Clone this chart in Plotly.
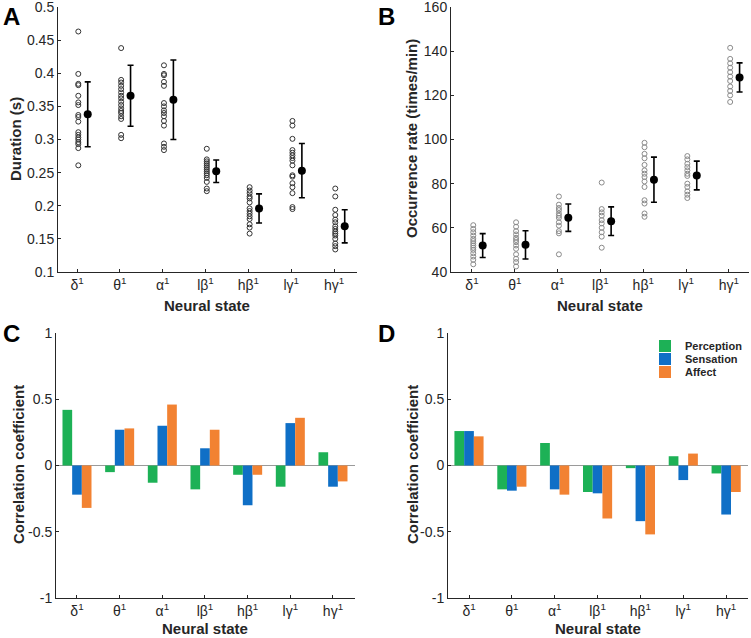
import plotly.graph_objects as go

# 神经状态类别
states = ['δ<sup>1</sup>', 'θ<sup>1</sup>', 'α<sup>1</sup>', 'lβ<sup>1</sup>',
          'hβ<sup>1</sup>', 'lγ<sup>1</sup>', 'hγ<sup>1</sup>']

# A: 持续时间 (s)，每个被试一个点
dur_pts = [
    [0.463, 0.399, 0.384, 0.382, 0.366, 0.356, 0.352, 0.337, 0.334, 0.327, 0.311, 0.307, 0.303, 0.300, 0.296, 0.293, 0.287, 0.261],
    [0.438, 0.390, 0.386, 0.381, 0.376, 0.371, 0.366, 0.362, 0.357, 0.352, 0.347, 0.343, 0.340, 0.335, 0.331, 0.307, 0.302],
    [0.412, 0.399, 0.397, 0.387, 0.381, 0.355, 0.350, 0.344, 0.340, 0.335, 0.328, 0.321, 0.294, 0.289, 0.284],
    [0.286, 0.270, 0.267, 0.264, 0.261, 0.258, 0.255, 0.252, 0.249, 0.246, 0.242, 0.236, 0.226, 0.222],
    [0.228, 0.223, 0.219, 0.214, 0.211, 0.205, 0.196, 0.192, 0.188, 0.184, 0.180, 0.172, 0.167, 0.158],
    [0.328, 0.321, 0.301, 0.284, 0.280, 0.276, 0.272, 0.268, 0.261, 0.246, 0.244, 0.234, 0.228, 0.219, 0.198, 0.195],
    [0.226, 0.214, 0.194, 0.186, 0.179, 0.175, 0.169, 0.165, 0.161, 0.158, 0.155, 0.150, 0.143, 0.139, 0.134],
]
dur_mean = [0.338, 0.366, 0.360, 0.252, 0.196, 0.253, 0.169]
dur_sd = [0.049, 0.046, 0.060, 0.017, 0.022, 0.041, 0.025]

# B: 出现频率 (times/min)
rate_pts = [
    [61.2, 59.5, 58.0, 56.5, 55.0, 54.0, 53.0, 52.0, 51.0, 50.0, 48.5, 47.0, 45.5, 43.5],
    [62.5, 60.5, 58.5, 57.0, 55.5, 54.5, 53.5, 52.0, 50.5, 48.0, 46.0, 44.5, 42.5],
    [74.2, 70.5, 69.0, 68.0, 66.5, 65.5, 64.5, 62.5, 61.0, 58.5, 57.5, 48.0],
    [80.5, 68.5, 67.0, 65.5, 63.5, 62.0, 60.0, 58.0, 56.0, 51.0],
    [98.5, 96.5, 93.5, 91.5, 88.5, 86.0, 84.5, 83.0, 81.0, 78.5, 72.5, 71.0, 66.5, 65.0],
    [92.5, 91.0, 89.0, 87.5, 86.0, 84.5, 83.5, 80.0, 78.5, 76.5, 75.0, 73.5],
    [141.5, 136.5, 134.5, 132.5, 130.5, 128.5, 126.5, 124.0, 122.0, 120.0, 117.0],
]
rate_mean = [52.0, 52.3, 64.6, 63.0, 81.8, 83.7, 128.1]
rate_sd = [5.4, 6.4, 6.2, 6.5, 10.2, 6.5, 6.6]

# C / D: 相关系数
measures = ['Perception', 'Sensation', 'Affect']
corr_c = {
    'Perception': [0.42, -0.05, -0.13, -0.18, -0.07, -0.16, 0.10],
    'Sensation': [-0.22, 0.27, 0.30, 0.13, -0.30, 0.32, -0.16],
    'Affect': [-0.32, 0.28, 0.46, 0.27, -0.07, 0.36, -0.12],
}
corr_d = {
    'Perception': [0.26, -0.18, 0.17, -0.20, -0.02, 0.07, -0.06],
    'Sensation': [0.26, -0.19, -0.18, -0.21, -0.42, -0.11, -0.37],
    'Affect': [0.22, -0.16, -0.22, -0.40, -0.52, 0.09, -0.20],
}
bar_colors = {'Perception': '#1DB156', 'Sensation': '#0F6FC6', 'Affect': '#F28232'}

W, H = 751, 638
FONT = 'Arial, Liberation Sans, sans-serif'
xpos = list(range(1, 8))

fig = go.Figure()

# A、B 面板：散点 + 均值误差棒
for pts, mean, sd, ax, col in [(dur_pts, dur_mean, dur_sd, '', '#333333'),
                               (rate_pts, rate_mean, rate_sd, '2', '#8a8a8a')]:
    xs, ys = [], []
    for i, p in enumerate(pts):
        xs += [xpos[i] + 0.03] * len(p)
        ys += p
    fig.add_trace(go.Scatter(
        x=xs, y=ys, mode='markers', xaxis='x' + ax, yaxis='y' + ax,
        marker=dict(symbol='circle-open', size=5, color=col, line=dict(width=1)),
        showlegend=False))
    fig.add_trace(go.Scatter(
        x=[v + 0.25 for v in xpos], y=mean, mode='markers', xaxis='x' + ax, yaxis='y' + ax,
        marker=dict(size=8, color='black'),
        error_y=dict(type='data', array=sd, color='black', thickness=1.6, width=3),
        showlegend=False))

# C、D 面板：分组柱状图（D 的三个系列各用一个图例，便于控制间距）
legend_ids = ['legend', 'legend2', 'legend3']
for data, ax, show in [(corr_c, '3', False), (corr_d, '4', True)]:
    for k, m in enumerate(measures):
        fig.add_trace(go.Bar(
            x=xpos, y=data[m], name=m, xaxis='x' + ax, yaxis='y' + ax,
            marker=dict(color=bar_colors[m], line=dict(width=0)),
            showlegend=show, legend=legend_ids[k]))


def px_x(a, b):
    return [a / W, b / W]


def px_y(top, bottom):
    return [(H - bottom) / H, (H - top) / H]


axis_common = dict(
    showline=True, linecolor='#262626', linewidth=1, ticks='inside', ticklen=3,
    tickcolor='#262626', tickfont=dict(family=FONT, size=14, color='#262626'),
    showgrid=False, zeroline=False, mirror=False, automargin=False,
    ticklabeloverflow='allow',
)
xcommon = dict(axis_common, tickvals=xpos, ticktext=states)


def leg(top):
    return dict(x=645 / W, y=(H - top) / H, xanchor='left', yanchor='middle',
                bgcolor='rgba(0,0,0,0)', borderwidth=0,
                font=dict(family=FONT, size=11, color='#262626', weight='bold'),
                itemwidth=30)


layout = dict(
    template='none',
    width=W, height=H, margin=dict(l=0, r=0, t=0, b=0, pad=0),
    paper_bgcolor='white', plot_bgcolor='white',
    font=dict(family=FONT, color='#262626'),
    barmode='group', bargap=0.32, bargroupgap=0,
    xaxis=dict(xcommon, domain=px_x(58, 357), range=[0.556, 7.537], anchor='y'),
    yaxis=dict(axis_common, domain=px_y(7, 272), range=[0.1, 0.5], dtick=0.05, anchor='x'),
    xaxis2=dict(xcommon, domain=px_x(451, 749), range=[0.51, 7.47], anchor='y2'),
    yaxis2=dict(axis_common, domain=px_y(7, 272), range=[40, 160], dtick=20, anchor='x2'),
    xaxis3=dict(xcommon, domain=px_x(56, 355), range=[0.508, 7.516], anchor='y3'),
    yaxis3=dict(axis_common, domain=px_y(333, 598), range=[-1, 1],
                tickvals=[-1, -0.5, 0, 0.5, 1], ticktext=['-1', '-0.5', '0', '0.5', '1'],
                anchor='x3', zeroline=True, zerolinecolor='#9a9a9a', zerolinewidth=1),
    xaxis4=dict(xcommon, domain=px_x(448, 748), range=[0.51, 7.51], anchor='y4'),
    yaxis4=dict(axis_common, domain=px_y(333, 598), range=[-1, 1],
                tickvals=[-1, -0.5, 0, 0.5, 1], ticktext=['-1', '-0.5', '0', '0.5', '1'],
                anchor='x4', zeroline=True, zerolinecolor='#9a9a9a', zerolinewidth=1),
    legend=leg(346), legend2=leg(359), legend3=leg(372),
    showlegend=True,
)
fig.update_layout(**layout)

# 标注：面板字母与坐标轴标题（显式居中锚点）
ann = []
base = dict(xref='paper', yref='paper', showarrow=False, xanchor='center', yanchor='middle')
for txt, x, y in [('A', 11, 16), ('B', 386, 16), ('C', 11, 333), ('D', 386, 333)]:
    ann.append(dict(base, text='<b>%s</b>' % txt, x=x / W, y=(H - y) / H,
                    font=dict(family=FONT, size=24, color='black')))
for txt, x, y in [('Duration (s)', 16, 139), ('Occurrence rate (times/min)', 412, 139),
                  ('Correlation coefficient', 18, 465), ('Correlation coefficient', 412, 465)]:
    ann.append(dict(base, text='<b>%s</b>' % txt, x=x / W, y=(H - y) / H, textangle=-90,
                    font=dict(family=FONT, size=15, color='#262626')))
for x, y in [(207, 305), (600, 305), (205, 628), (598, 628)]:
    ann.append(dict(base, text='<b>Neural state</b>', x=x / W, y=(H - y) / H,
                    font=dict(family=FONT, size=15, color='#262626')))
fig.update_layout(annotations=ann)

fig.write_html('out.html', config={'displayModeBar': False},
               post_script="document.body.style.margin='0px';")
